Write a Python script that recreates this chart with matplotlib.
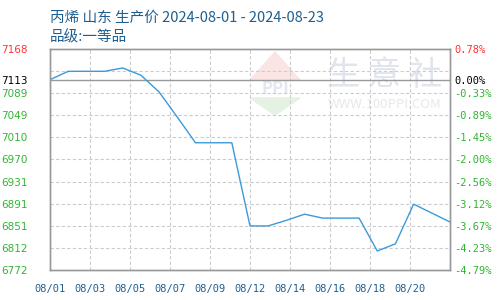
import numpy as np
import matplotlib
matplotlib.use("Agg")
import matplotlib.pyplot as plt
from matplotlib.patches import Polygon

plt.rcParams['font.family'] = ['Noto Sans CJK SC', 'DejaVu Sans']

# data: calendar day offset from 2024-08-01 and price
days = list(range(23))
prices = [7113, 7128, 7128, 7128, 7134, 7121, 7091, 7046, 7000, 7000, 7000,
          6851, 6851, 6861, 6872, 6865, 6865, 6865, 6806, 6819, 6890, 6874, 6858]

base_price = 7113
y_min, y_max = 6772, 7168
left_labels = ['6772', '6812', '6851', '6891', '6931', '6970', '7010', '7049', '7089', '', '7168']
right_labels = ['-4.79%', '-4.23%', '-3.67%', '-3.12%', '-2.56%', '-2.00%', '-1.45%', '-0.89%', '-0.33%', '', '0.78%']
x_labels = ['08/01', '08/03', '08/05', '08/07', '08/09', '08/12', '08/14', '08/16', '08/18', '08/20', '']

title1 = '丙烯 山东 生产价 2024-08-01 - 2024-08-23'
title2 = '品级:一等品'

green = '#33b333'
red = '#ff3333'
blue_text = '#1f5f8f'
line_col = '#3b9ad9'

fig = plt.figure(figsize=(5, 3), dpi=100)
ax = fig.add_axes([0.1, 0.1, 0.8, 0.7367])

grid_vals = np.linspace(y_min, y_max, 11)
xticks = np.linspace(days[0], days[-1], 11)

for g in grid_vals[1:-1]:
    ax.axhline(g, color='#cccccc', lw=0.8, ls=(0, (3, 2)), zorder=1)
for xt in xticks[1:-1]:
    ax.axvline(xt, color='#cccccc', lw=0.8, ls=(0, (3, 2)), zorder=1)
ax.axhline(base_price, color='#999999', lw=1.0, zorder=2)

# watermark
ax_w = fig.add_axes([0, 0, 1, 1], zorder=0)
ax_w.set_xlim(0, 500); ax_w.set_ylim(300, 0); ax_w.axis('off')
ax_w.add_patch(Polygon([[250, 80], [275, 52], [300, 80]], closed=True, color='#fbe4e4'))
ax_w.add_patch(Polygon([[250, 98], [275, 115], [300, 98]], closed=True, color='#e4f2e4'))
ax_w.text(275, 89, 'PPI', ha='center', va='center', fontsize=12, color='#e2e7f0', fontweight='bold')
ax_w.text(385, 75, '生 意 社', ha='center', va='center', fontsize=24, color='#e0e4ed')
ax_w.text(385, 105, 'WWW.100PPI.COM', ha='center', va='center', fontsize=9.5, color='#e8e8e8')
ax.set_zorder(1)
ax.patch.set_alpha(0)

ax.plot(days, prices, color=line_col, lw=1.0, zorder=3)

ax.set_xlim(days[0], days[-1])
ax.set_ylim(y_min, y_max)

ytick_vals = list(grid_vals[:9]) + [base_price, grid_vals[10]]
ytick_labels = left_labels[:9] + [str(base_price), left_labels[10]]
ax.set_yticks(ytick_vals)
ax.set_yticklabels(ytick_labels, fontsize=7.5, family='DejaVu Sans')
for lab, t in zip(ax.get_yticklabels(), ytick_labels):
    lab.set_color(red if t == left_labels[10] else ('black' if t == str(base_price) else green))
ax.tick_params(axis='y', length=0, pad=16)

ax2 = ax.twinx()
ax2.set_ylim(y_min, y_max)
rlabels = right_labels[:9] + ['0.00%', right_labels[10]]
ax2.set_yticks(ytick_vals)
ax2.set_yticklabels(rlabels, fontsize=7.5, family='DejaVu Sans Mono')
for lab, t in zip(ax2.get_yticklabels(), rlabels):
    lab.set_color(red if t == right_labels[10] else ('black' if t == '0.00%' else green))
ax2.tick_params(axis='y', length=0, pad=3)

ax.set_xticks(xticks)
ax.set_xticklabels(x_labels, fontsize=7.5, family='DejaVu Sans Mono', color=blue_text)
ax.tick_params(axis='x', length=0, pad=10)

for a in (ax, ax2):
    for s in a.spines.values():
        s.set_color('#999999')
        s.set_linewidth(1.0)

fig.text(0.1, 1 - 18 / 300, title1, fontsize=10.5, color=blue_text, va='center', ha='left')
fig.text(0.1, 1 - 37 / 300, title2, fontsize=10.5, color=blue_text, va='center', ha='left')

fig.savefig('out.png', dpi=100)
